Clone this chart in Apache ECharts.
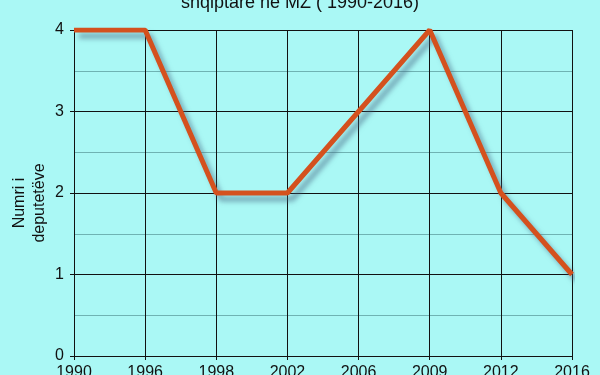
<!DOCTYPE html>
<html>
<head>
<meta charset="utf-8">
<script src="https://cdn.jsdelivr.net/npm/echarts@6/dist/echarts.min.js"></script>
<style>
html,body{margin:0;padding:0;background:#aaf8f5;}
#c{width:600px;height:375px;}
</style>
</head>
<body>
<div id="c"></div>
<script>
const titleText = "shqiptarë në MZ ( 1990-2016)";
const yAxisName = "Numri i\ndeputetëve";
const years = ["1990", "1996", "1998", "2002", "2006", "2009", "2012", "2016"];
const deputies = [4, 4, 2, 2, 3, 4, 2, 1];

const chart = echarts.init(document.getElementById('c'), null, {renderer: 'canvas'});
chart.setOption({
  backgroundColor: '#aaf8f5',
  animation: false,
  title: {
    text: titleText,
    left: 'center',
    top: -11,
    textStyle: {fontFamily: 'Liberation Sans', fontSize: 18, fontWeight: 'normal', color: '#111'}
  },
  grid: {left: 74, right: 28, top: 30, bottom: 19, containLabel: false, outerBoundsMode: 'none'},
  xAxis: {
    type: 'category',
    data: years,
    boundaryGap: false,
    axisLine: {show: true, lineStyle: {color: '#111', width: 1}},
    axisTick: {show: true, length: 4, lineStyle: {color: '#111'}},
    axisLabel: {fontFamily: 'Liberation Sans', fontSize: 16, color: '#111', margin: 9, interval: 0},
    splitLine: {show: true, lineStyle: {color: '#111', width: 1}}
  },
  yAxis: {
    type: 'value',
    min: 0, max: 4, interval: 1,
    name: yAxisName,
    nameLocation: 'middle',
    nameRotate: 90,
    nameGap: 24,
    nameMoveOverlap: false,
    nameTextStyle: {fontFamily: 'Liberation Sans', fontSize: 16, color: '#111', lineHeight: 20, padding: [0, 20, 0, 0]},
    axisLine: {show: true, lineStyle: {color: '#111', width: 1}},
    axisTick: {show: true, length: 4, lineStyle: {color: '#111'}},
    axisLabel: {fontFamily: 'Liberation Sans', fontSize: 16, color: '#111', margin: 10},
    splitLine: {show: true, lineStyle: {color: '#111', width: 1}},
    minorTick: {show: false, splitNumber: 2},
    minorSplitLine: {show: true, lineStyle: {color: '#6fb3b3', width: 1}}
  },
  series: [{
    type: 'line',
    data: deputies,
    symbol: 'none',
    lineStyle: {
      color: '#d4511e', width: 5,
      shadowColor: 'rgba(70,100,130,0.55)', shadowBlur: 5, shadowOffsetX: 5, shadowOffsetY: 6
    }
  }]
});
</script>
</body>
</html>
